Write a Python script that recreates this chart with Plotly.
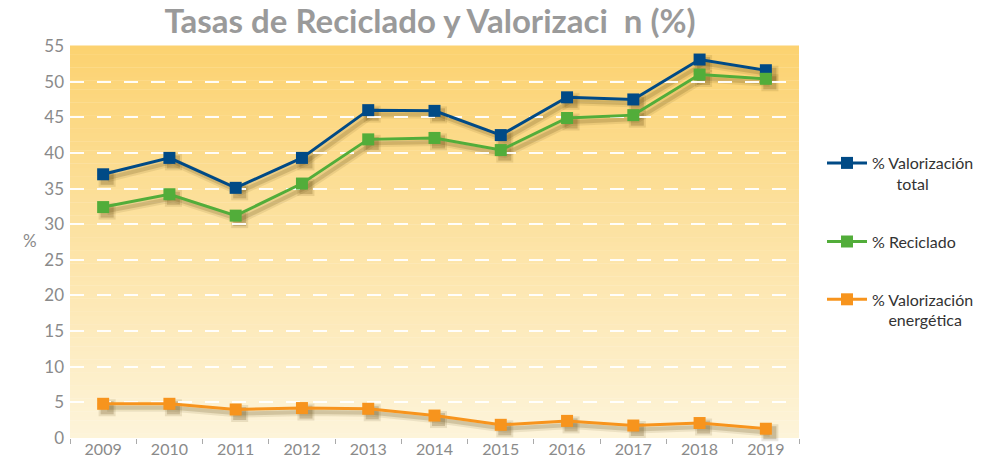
import plotly.graph_objects as go

years = ["2009", "2010", "2011", "2012", "2013", "2014", "2015", "2016", "2017", "2018", "2019"]
valorizacion_total = [37.0, 39.3, 35.1, 39.3, 46.0, 45.9, 42.5, 47.8, 47.5, 53.1, 51.6]
reciclado = [32.4, 34.2, 31.2, 35.7, 41.9, 42.1, 40.4, 44.9, 45.3, 51.0, 50.4]
valorizacion_energetica = [4.8, 4.8, 4.0, 4.2, 4.1, 3.15, 1.85, 2.4, 1.75, 2.1, 1.3]

series_names = ["% Valorización<br>\u00a0\u00a0\u00a0\u00a0\u00a0\u00a0total", "% Reciclado",
                "% Valorización<br>\u00a0\u00a0\u00a0\u00a0energética"]
series_values = [valorizacion_total, reciclado, valorizacion_energetica]
series_colors = ["#004A86", "#52AD3A", "#F7941D"]
y_ticks = list(range(0, 60, 5))

W, H = 988, 461
ML, MR, MT, MB = 70, 184, 46, 18
PW = W - ML - MR
PH = H - MT - MB
main_x_dom = [0, (PW - 5) / PW]
main_y_dom = [5 / PH, 1]
sh_x_dom = [4 / PW, (PW - 1) / PW]
sh_y_dom = [1 / PH, (PH - 4) / PH]

fig = go.Figure()

# shadow traces (hidden axes x/y shifted slightly down-right)
for vals in series_values:
    fig.add_trace(go.Scatter(x=years, y=vals, mode="lines+markers", xaxis="x", yaxis="y",
                             line=dict(color="rgba(90,65,10,0.10)", width=8),
                             marker=dict(symbol="square", size=17, color="rgba(90,65,10,0.12)"),
                             showlegend=False, hoverinfo="skip"))
    fig.add_trace(go.Scatter(x=years, y=vals, mode="lines+markers", xaxis="x", yaxis="y",
                             line=dict(color="rgba(90,65,10,0.18)", width=4),
                             marker=dict(symbol="square", size=13, color="rgba(90,65,10,0.22)"),
                             showlegend=False, hoverinfo="skip"))

# main traces
for name, vals, col, grp in zip(series_names, series_values, series_colors, ["a", "b", "c"]):
    fig.add_trace(go.Scatter(x=years, y=vals, name=name, mode="lines+markers",
                             xaxis="x2", yaxis="y2", legendgroup=grp,
                             line=dict(color=col, width=3),
                             marker=dict(symbol="square", size=12, color=col)))

# vertical gradient background of plot area
top = (252, 210, 112)
bot = (253, 244, 218)
N = 90
y0p, y1p = main_y_dom
for i in range(N):
    t = (i + 0.5) / N
    c = tuple(round(bot[k] + (top[k] - bot[k]) * t) for k in range(3))
    fig.add_shape(type="rect", xref="paper", yref="paper", layer="below",
                  x0=main_x_dom[0], x1=main_x_dom[1],
                  y0=y0p + (y1p - y0p) * i / N, y1=y0p + (y1p - y0p) * (i + 1) / N + 0.001,
                  line=dict(width=0), fillcolor="rgb(%d,%d,%d)" % c)

axis_font = dict(family="Lato, sans-serif", color="#8a8a8a")

fig.update_layout(
    width=W, height=H,
    margin=dict(l=ML, r=MR, t=MT, b=MB, autoexpand=False),
    paper_bgcolor="white",
    plot_bgcolor="rgba(0,0,0,0)",
    title=dict(text="Tasas de Reciclado y Valorizaci\u00a0\u00a0n (%)", x=430 / W,
               xanchor="center", y=1 - 21 / H, yanchor="middle",
               font=dict(family="Lato, sans-serif", size=33, color="#9a9a9a", weight="bold")),
    xaxis=dict(domain=sh_x_dom, anchor="y", type="category", range=[-0.5, 10.5], visible=False),
    yaxis=dict(domain=sh_y_dom, anchor="x", range=[0, 55], visible=False),
    xaxis2=dict(domain=main_x_dom, anchor="y2", type="category", range=[-0.5, 10.5],
                showgrid=False, zeroline=False, showline=False, automargin=False,
                ticks="outside", tickson="boundaries", ticklen=5, tickcolor="#aaaaaa", tickwidth=1,
                tickfont=dict(size=16, **axis_font)),
    yaxis2=dict(domain=main_y_dom, anchor="x2", range=[0, 55], tickvals=y_ticks,
                showgrid=True, gridcolor="rgba(255,255,255,0.95)", gridwidth=1.5, griddash="14px,13px",
                zeroline=False, showline=False, ticks="", automargin=False, ticklabelstandoff=5,
                tickfont=dict(size=17, **axis_font)),
    legend=dict(x=(822 - ML) / PW, xanchor="left", y=(H - MB - 146) / PH, yanchor="top",
                valign="top", tracegroupgap=34, bgcolor="rgba(0,0,0,0)", itemwidth=40,
                font=dict(family="Lato, sans-serif", size=16, color="#333333")),
    annotations=[dict(text="%", xref="paper", yref="paper", x=(30 - ML) / PW, y=(H - MB - 240) / PH,
                      xanchor="center", yanchor="middle", showarrow=False,
                      font=dict(family="Lato, sans-serif", size=17, color="#8a8a8a"))],
)

fig.write_html("out.html")
